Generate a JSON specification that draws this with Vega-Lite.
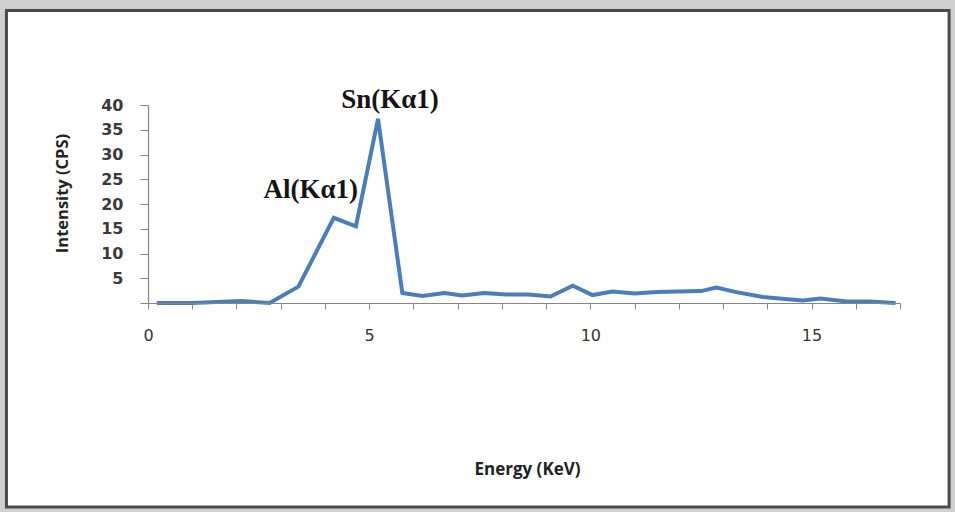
{
  "$schema": "https://vega.github.io/schema/vega-lite/v6.json",
  "width": 752,
  "height": 198,
  "autosize": {"type": "none"},
  "padding": {"left": 148, "top": 105, "right": 55, "bottom": 209},
  "background": "#cfcfcf",
  "config": {
    "view": {"stroke": null},
    "axisX": {
      "grid": false,
      "format": "d",
      "domainColor": "#868686",
      "domainWidth": 1.2,
      "tickColor": "#868686",
      "tickSize": 6,
      "labelFont": "DejaVu Sans",
      "labelFontSize": 16,
      "labelColor": "#333333",
      "labelPadding": 18,
      "labelFlush": false,
      "labelOverlap": false,
      "titleFont": "Open Sans",
      "titleFontWeight": "bold",
      "titleFontSize": 17,
      "titleColor": "#222222",
      "titleX": 379,
      "titleY": 166,
      "titleBaseline": "middle"
    },
    "axisY": {
      "grid": false,
      "format": "d",
      "domainColor": "#868686",
      "domainWidth": 1.2,
      "tickColor": "#868686",
      "tickSize": 8,
      "labelFont": "DejaVu Sans",
      "labelFontWeight": "bold",
      "labelFontSize": 16,
      "labelColor": "#3a3a3a",
      "labelPadding": 17,
      "labelOverlap": false,
      "titleFont": "Open Sans",
      "titleFontWeight": "bold",
      "titleFontSize": 16.5,
      "titleColor": "#222222",
      "titleX": -86,
      "titleY": 88,
      "titleAngle": -90,
      "titleAlign": "center",
      "titleBaseline": "middle"
    }
  },
  "data": {
    "values": [
      {"energy": 0.2, "cps": 0},
      {"energy": 1.0, "cps": 0},
      {"energy": 2.1, "cps": 0.4},
      {"energy": 2.75, "cps": 0},
      {"energy": 3.4, "cps": 3.3},
      {"energy": 4.2, "cps": 17.2},
      {"energy": 4.7, "cps": 15.5},
      {"energy": 5.2, "cps": 37.2},
      {"energy": 5.75, "cps": 2.0},
      {"energy": 6.2, "cps": 1.4},
      {"energy": 6.7, "cps": 2.0},
      {"energy": 7.1, "cps": 1.5},
      {"energy": 7.6, "cps": 2.0},
      {"energy": 8.1, "cps": 1.7},
      {"energy": 8.6, "cps": 1.7},
      {"energy": 9.1, "cps": 1.3},
      {"energy": 9.6, "cps": 3.5},
      {"energy": 10.05, "cps": 1.6},
      {"energy": 10.5, "cps": 2.3},
      {"energy": 11.0, "cps": 1.9},
      {"energy": 11.5, "cps": 2.2},
      {"energy": 12.0, "cps": 2.3},
      {"energy": 12.5, "cps": 2.4},
      {"energy": 12.85, "cps": 3.1},
      {"energy": 13.3, "cps": 2.2},
      {"energy": 13.9, "cps": 1.2},
      {"energy": 14.4, "cps": 0.8},
      {"energy": 14.8, "cps": 0.5},
      {"energy": 15.2, "cps": 0.9},
      {"energy": 15.8, "cps": 0.3},
      {"energy": 16.3, "cps": 0.3},
      {"energy": 16.9, "cps": 0}
    ]
  },
  "layer": [
    {
      "data": {"values": [{}]},
      "mark": {"type": "rect", "fill": "#ffffff", "stroke": "#4a4a4a", "strokeWidth": 3},
      "encoding": {
        "x": {
          "datum": -3.2,
          "type": "quantitative",
          "scale": {"domain": [0, 17], "nice": false, "zero": false},
          "axis": {
            "title": "Energy (KeV)",
            "zindex": 1,
            "tickCount": 40,
            "format": "d",
            "values": [0, 1, 2, 3, 4, 5, 6, 7, 8, 9, 10, 11, 12, 13, 14, 15, 16, 17],
            "labelExpr": "datum.value % 5 === 0 ? datum.label : ''"
          }
        },
        "x2": {"datum": 18.11},
        "y": {
          "datum": 59.1,
          "type": "quantitative",
          "scale": {"domain": [0, 40], "nice": false, "zero": false},
          "axis": {
            "title": "Intensity (CPS)",
            "zindex": 1,
            "tickCount": 20,
            "format": "d",
            "values": [0, 5, 10, 15, 20, 25, 30, 35, 40],
            "labelExpr": "datum.value === 0 ? '' : datum.label"
          }
        },
        "y2": {"datum": -41.2}
      }
    },
    {
      "mark": {"type": "line", "color": "#4a7ebb", "strokeWidth": 4, "strokeJoin": "miter"},
      "encoding": {
        "x": {
          "field": "energy",
          "type": "quantitative",
          "axis": {
            "title": "Energy (KeV)",
            "zindex": 1,
            "tickCount": 40,
            "format": "d",
            "values": [0, 1, 2, 3, 4, 5, 6, 7, 8, 9, 10, 11, 12, 13, 14, 15, 16, 17],
            "labelExpr": "datum.value % 5 === 0 ? datum.label : ''"
          }
        },
        "y": {
          "field": "cps",
          "type": "quantitative",
          "axis": {
            "title": "Intensity (CPS)",
            "zindex": 1,
            "tickCount": 20,
            "format": "d",
            "values": [0, 5, 10, 15, 20, 25, 30, 35, 40],
            "labelExpr": "datum.value === 0 ? '' : datum.label"
          }
        }
      }
    },
    {
      "data": {"values": [{}]},
      "mark": {"type": "text", "font": "Liberation Serif", "fontWeight": "bold", "fontSize": 27, "color": "#141414", "align": "center", "baseline": "middle"},
      "encoding": {
        "x": {"datum": 5.47, "type": "quantitative"},
        "y": {"datum": 41.0, "type": "quantitative"},
        "text": {"value": "Sn(Kα1)"}
      }
    },
    {
      "data": {"values": [{}]},
      "mark": {"type": "text", "font": "Liberation Serif", "fontWeight": "bold", "fontSize": 27, "color": "#141414", "align": "center", "baseline": "middle"},
      "encoding": {
        "x": {"datum": 3.68, "type": "quantitative"},
        "y": {"datum": 22.8, "type": "quantitative"},
        "text": {"value": "Al(Kα1)"}
      }
    }
  ]
}
